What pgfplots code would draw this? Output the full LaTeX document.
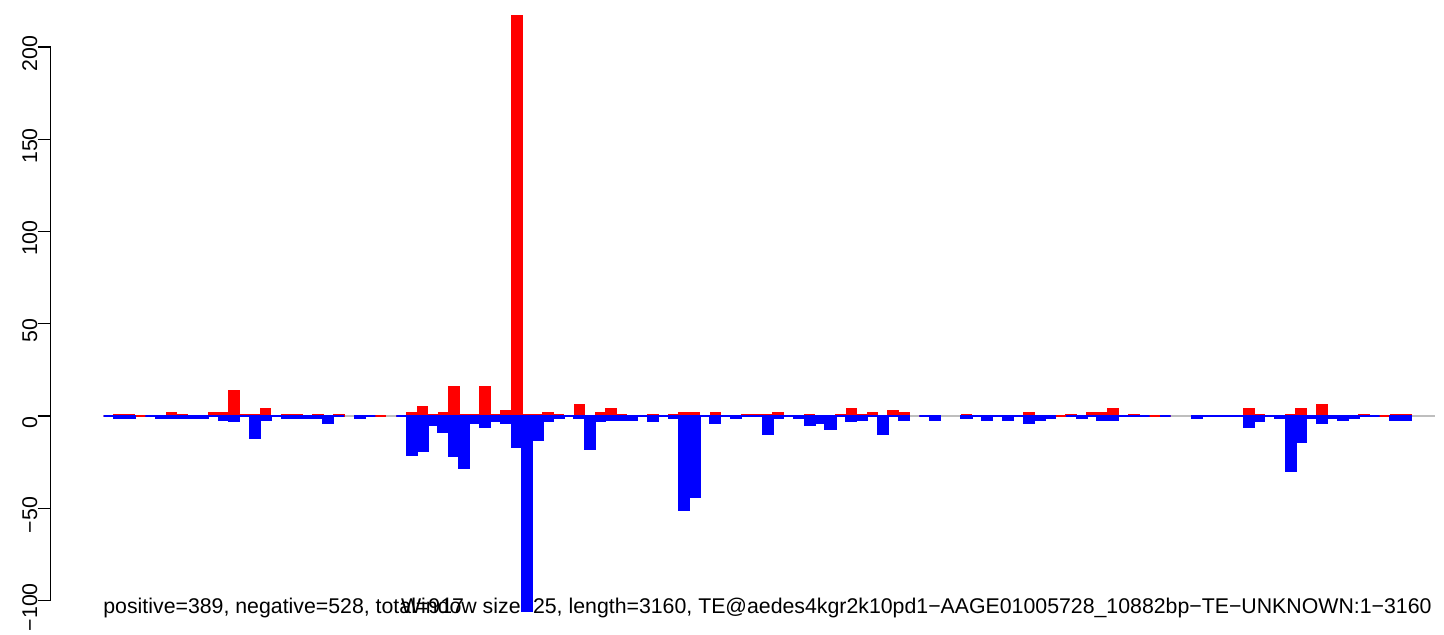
\documentclass[border=0pt]{standalone}
\usepackage{fontspec}
\setmainfont{Liberation Sans}
\usepackage{pgfplots}
\pgfplotsset{compat=1.18}
\definecolor{rgray}{RGB}{190,190,190}
\begin{document}
\begin{tikzpicture}
\path[use as bounding box] (0,0) rectangle (722pt,317pt);
\node[anchor=base west, inner sep=0pt, font=\fontsize{10.65}{12.8}\selectfont] at (51.5pt,10.5pt) {positive=389, negative=528, total=917};
\node[anchor=base east, inner sep=0pt, font=\fontsize{10.65}{12.8}\selectfont] at (716pt,10.5pt) {Window size=25, length=3160, TE@aedes4kgr2k10pd1−AAGE01005728\_10882bp−TE−UNKNOWN:1−3160};
\begin{axis}[at={(51.75pt,11pt)}, anchor=south west, scale only axis,
  width=664.25pt, height=300.95pt, xmin=-0.5, xmax=126.5, ymin=-106.2, ymax=220,
  hide axis, clip=false]
\addplot[rgray, line width=0.6pt] coordinates {(-0.5,0) (126.8,0)};
\addplot[ybar, bar width=1, bar shift=0pt, fill=red, draw=red, line width=0.6pt] coordinates {
(0,0)(1,1)(2,1)(3,0)(4,0)(5,0)(6,2)(7,1)(8,0)(9,0)(10,2)(11,2)(12,14)(13,1)(14,1)(15,4)(16,0)(17,1)(18,1)(19,0)(20,1)(21,0)(22,1)(24,0)(25,0)(26,0)(28,0)(29,2)(30,5)(31,1)(32,2)(33,16)(34,1)(35,1)(36,16)(37,1)(38,3)(39,217)(40,1)(41,1)(42,2)(43,1)(44,0)(45,6)(46,0)(47,2)(48,4)(49,1)(50,0)(51,0)(52,1)(53,0)(54,1)(55,2)(56,2)(57,0)(58,2)(59,0)(60,0)(61,1)(62,1)(63,1)(64,2)(65,0)(66,0)(67,1)(68,0)(69,0)(70,1)(71,4)(72,1)(73,2)(74,0)(75,3)(76,2)(78,0)(79,0)(82,1)(83,0)(84,0)(85,0)(86,0)(87,0)(88,2)(89,0)(90,0)(91,0)(92,1)(93,0)(94,2)(95,2)(96,4)(97,0)(98,1)(99,0)(100,0)(101,0)(104,0)(105,0)(106,0)(107,0)(108,0)(109,4)(110,1)(111,0)(112,0)(113,1)(114,4)(115,0)(116,6)(117,0)(118,0)(119,0)(120,1)(121,0)(122,0)(123,1)(124,1)
};
\addplot[ybar, bar width=1, bar shift=0pt, fill=blue, draw=blue, line width=0.8pt] coordinates {
(0,0)(1,-1)(2,-1)(4,0)(5,-1)(6,-1)(7,-1)(8,-1)(9,-1)(10,0)(11,-2)(12,-3)(13,0)(14,-12)(15,-2)(16,0)(17,-1)(18,-1)(19,-1)(20,-1)(21,-4)(22,0)(24,-1)(25,0)(28,0)(29,-21)(30,-19)(31,-5)(32,-9)(33,-22)(34,-28)(35,-4)(36,-6)(37,-3)(38,-4)(39,-17)(40,-106)(41,-13)(42,-3)(43,-1)(44,0)(45,-1)(46,-18)(47,-3)(48,-2)(49,-2)(50,-2)(51,0)(52,-3)(53,0)(54,-1)(55,-51)(56,-44)(57,0)(58,-4)(59,0)(60,-1)(61,0)(62,0)(63,-10)(64,-1)(65,0)(66,-1)(67,-5)(68,-4)(69,-7)(70,0)(71,-3)(72,-2)(73,0)(74,-10)(75,0)(76,-2)(78,0)(79,-2)(82,-1)(83,0)(84,-2)(85,0)(86,-2)(87,0)(88,-4)(89,-2)(90,-1)(92,0)(93,-1)(94,0)(95,-2)(96,-2)(97,0)(98,0)(99,0)(101,0)(104,-1)(105,0)(106,0)(107,0)(108,0)(109,-6)(110,-3)(111,0)(112,-1)(113,-30)(114,-14)(115,-1)(116,-4)(117,-1)(118,-2)(119,-1)(120,0)(121,0)(123,-2)(124,-2)
};
\end{axis}
\begin{axis}[at={(25.35pt,16.75pt)}, anchor=south west, scale only axis,
  width=1pt, height=276.75pt, xmin=0, xmax=1, ymin=-100, ymax=200,
  axis y line=left, hide x axis,
  axis line style={-, line width=0.65pt},
  ytick={-100,-50,0,50,100,150,200},
  yticklabels={−100,−50,0,50,100,150,200},
  tick align=outside, major tick length=6.5pt,
  tick style={black, line width=0.65pt},
  yticklabel style={rotate=90, anchor=south, inner sep=0pt, xshift=-3.35pt, font=\fontsize{10.65}{12.8}\selectfont}]
\end{axis}
\end{tikzpicture}
\end{document}
